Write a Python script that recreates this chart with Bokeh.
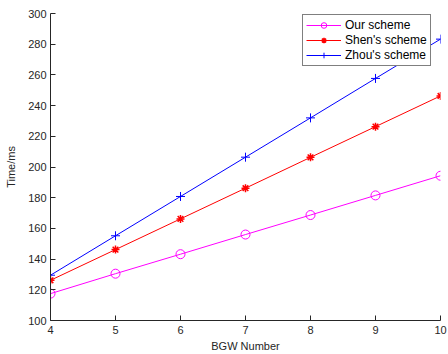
from bokeh.plotting import figure
from bokeh.models import Range1d, FixedTicker, Legend, LegendItem
from bokeh.embed import file_html
from bokeh.resources import INLINE

bgw = [4, 5, 6, 7, 8, 9, 10]
our_scheme = [117.5, 130.5, 143.2, 156.0, 168.7, 181.5, 194.3]
shen_scheme = [126.2, 146.2, 166.2, 186.2, 206.3, 226.3, 246.3]
zhou_scheme = [129.5, 155.2, 180.8, 206.4, 232.0, 257.7, 283.3]
x_ticks = [4, 5, 6, 7, 8, 9, 10]
y_ticks = [100, 120, 140, 160, 180, 200, 220, 240, 260, 280, 300]

FONT = "Liberation Sans"

p = figure(width=448, height=354, output_backend="svg", toolbar_location=None,
           x_range=Range1d(4, 10), y_range=Range1d(100, 300),
           min_border_left=50, min_border_right=8, min_border_top=13, min_border_bottom=33)
p.xgrid.visible = False
p.ygrid.visible = False
p.outline_line_color = None
p.background_fill_color = "white"
p.border_fill_color = "white"

for ax, ticks in ((p.xaxis, x_ticks), (p.yaxis, y_ticks)):
    ax.ticker = FixedTicker(ticks=ticks)
    ax.major_tick_in = 5
    ax.major_tick_out = 0
    ax.minor_tick_line_color = None
    ax.axis_line_color = "#262626"
    ax.major_tick_line_color = "#262626"
    ax.major_label_text_font = FONT
    ax.major_label_text_font_size = "11px"
    ax.major_label_text_color = "#262626"
    ax.axis_label_text_font = FONT
    ax.axis_label_text_font_size = "11px"
    ax.axis_label_text_font_style = "normal"
    ax.axis_label_text_color = "#262626"

p.xaxis.axis_label = "BGW Number"
p.yaxis.axis_label = "Time/ms"
p.xaxis.major_label_standoff = 5
p.xaxis.axis_label_standoff = 3
p.yaxis.major_label_standoff = 4
p.yaxis.axis_label_standoff = 8

l1 = p.line(bgw, our_scheme, line_color="#ff00ff", line_width=1)
m1 = p.scatter(bgw, our_scheme, marker="circle", size=9, line_color="#ff00ff", fill_color=None, line_width=1)
l2 = p.line(bgw, shen_scheme, line_color="#ff0000", line_width=1)
m2 = p.scatter(bgw, shen_scheme, marker="asterisk", size=8, line_color="#ff0000", line_width=1.5)
l3 = p.line(bgw, zhou_scheme, line_color="#0000ff", line_width=1)
m3 = p.scatter(bgw, zhou_scheme, marker="cross", size=9, line_color="#0000ff", line_width=1)

legend = Legend(items=[
    LegendItem(label="Our scheme", renderers=[l1, m1]),
    LegendItem(label="Shen's scheme", renderers=[l2, m2]),
    LegendItem(label="Zhou's scheme", renderers=[l3, m3]),
], location=(252, 254))
legend.label_text_font = FONT
legend.label_text_font_size = "12px"
legend.label_text_color = "black"
legend.glyph_width = 35
legend.glyph_height = 14
legend.label_height = 14
legend.spacing = 1
legend.padding = 3
legend.margin = 0
legend.label_standoff = 4
legend.border_line_color = "black"
legend.border_line_width = 1
legend.background_fill_color = "white"
legend.background_fill_alpha = 1
p.add_layout(legend, "center")

open("out.html", "w").write(file_html(p, INLINE))
